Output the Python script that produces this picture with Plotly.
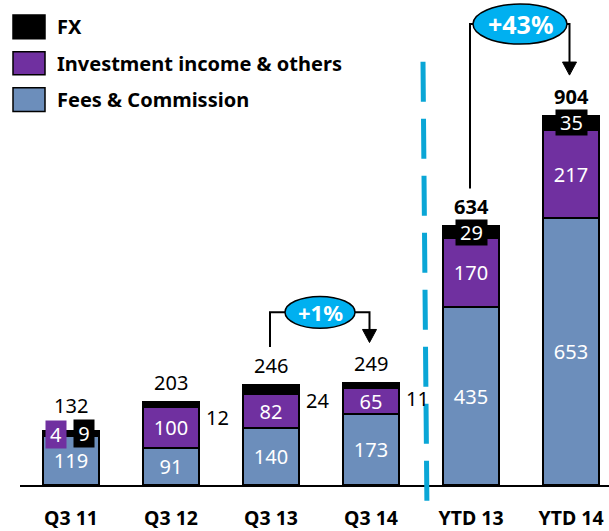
import plotly.graph_objects as go

# Data
categories = ["Q3 11", "Q3 12", "Q3 13", "Q3 14", "YTD 13", "YTD 14"]
fees = [119, 91, 140, 173, 435, 653]
investment = [4, 100, 82, 65, 170, 217]
fx = [9, 12, 24, 11, 29, 35]
totals = [132, 203, 246, 249, 634, 904]

series_names = ["FX", "Investment income & others", "Fees & Commission"]
growth_labels = ["+1%", "+43%"]
growth_pairs = [(2, 3), (4, 5)]

FEES_COLOR = '#6C8EBB'
INV_COLOR = '#7030A0'
FX_COLOR = '#000000'
CYAN = '#00B0F0'
FONT = 'Noto Sans'

# plot area in pixels (used for the decorations placed in paper coordinates)
PL, PW, PT, PH = 20, 589, 0, 487


def px_x(px):
    return (px - PL) / PW


def px_y(py):
    return (PT + PH - py) / PH


x = list(range(len(categories)))
bar_line = dict(color='black', width=2)

fig = go.Figure()

fig.add_trace(go.Bar(
    x=x, y=fees, width=0.56, name=series_names[2],
    marker=dict(color=FEES_COLOR, line=bar_line),
    text=[str(v) for v in fees], textposition='inside', insidetextanchor='middle',
    textangle=0, textfont=dict(color='white', size=20, family=FONT),
))
fig.add_trace(go.Bar(
    x=x, y=investment, width=0.56, name=series_names[1],
    marker=dict(color=INV_COLOR, line=bar_line),
    text=['' if i == 0 else str(v) for i, v in enumerate(investment)],
    textposition='inside', insidetextanchor='middle',
    textangle=0, textfont=dict(color='white', size=20, family=FONT),
))
fig.add_trace(go.Bar(
    x=x, y=fx, width=0.56, name=series_names[0],
    marker=dict(color=FX_COLOR, line=bar_line),
))

annotations = []
shapes = []

# totals above the bars
for i, t in enumerate(totals):
    bold = categories[i].startswith('YTD')
    annotations.append(dict(
        x=i, y=t, text=f"<b>{t}</b>" if bold else str(t),
        showarrow=False, yanchor='bottom', yshift=10 if i == 0 else 4,
        font=dict(size=20, color='black', family=FONT),
    ))

# FX labels
for i, v in enumerate(fx):
    if i == 0:
        # small segments in Q3 11: boxed labels
        annotations.append(dict(
            x=i, y=fees[i] + investment[i], xshift=-15, text=str(investment[i]),
            showarrow=False, yanchor='middle', width=18, height=25,
            bgcolor=INV_COLOR, font=dict(size=20, color='white', family=FONT),
        ))
        annotations.append(dict(
            x=i, y=totals[i], xshift=13, yshift=-2, text=str(v),
            showarrow=False, yanchor='middle', width=18, height=25,
            bgcolor=FX_COLOR, font=dict(size=20, color='white', family=FONT),
        ))
    elif categories[i].startswith('YTD'):
        annotations.append(dict(
            x=i, y=fees[i] + investment[i] + v / 2, text=str(v),
            showarrow=False, yanchor='middle', width=29, height=23,
            bgcolor=FX_COLOR, font=dict(size=20, color='white', family=FONT),
        ))
    else:
        annotations.append(dict(
            x=i + 0.28, y=totals[i], xshift=5, text=str(v),
            showarrow=False, xanchor='left', yanchor='top',
            font=dict(size=20, color='black', family=FONT),
        ))

# growth bubbles with elbow connectors
bubble_style = [
    dict(yc=423, rx=0.35, ry=39, size=22),
    dict(yc=1129, rx=0.47, ry=49, size=25),
]
for (a, b), label, st in zip(growth_pairs, growth_labels, bubble_style):
    xc = (a + b) / 2 - 0.01
    yc = st['yc']
    xl, xr = a - 0.01, b - 0.015
    left_bottom = totals[a] + 92
    tip = totals[b] + 100
    head = 32
    shapes.append(dict(
        type='path', xref='x', yref='y',
        path=f"M {xl},{left_bottom} L {xl},{yc} L {xc - st['rx']},{yc}",
        line=dict(color='black', width=2),
    ))
    shapes.append(dict(
        type='path', xref='x', yref='y',
        path=f"M {xc + st['rx']},{yc} L {xr},{yc} L {xr},{tip + head}",
        line=dict(color='black', width=2),
    ))
    shapes.append(dict(
        type='path', xref='x', yref='y',
        path=f"M {xr - 0.07},{tip + head} L {xr + 0.07},{tip + head} L {xr},{tip} Z",
        fillcolor='black', line=dict(color='black', width=1),
    ))
    shapes.append(dict(
        type='circle', xref='x', yref='y',
        x0=xc - st['rx'], x1=xc + st['rx'], y0=yc - st['ry'], y1=yc + st['ry'],
        fillcolor=CYAN, line=dict(color='black', width=1.5),
    ))
    annotations.append(dict(
        x=xc, y=yc, text=f"<b>{label}</b>", showarrow=False,
        font=dict(size=st['size'], color='white', family=FONT),
    ))

# dashed separator between quarters and YTD
shapes.append(dict(
    type='line', xref='x', yref='paper',
    x0=3.52, y0=px_y(62), x1=3.56, y1=px_y(516),
    line=dict(color='#0AA6D6', width=5, dash='40px,17px'),
))

# custom legend
legend_boxes = [(15, 39), (52, 75), (88, 112)]
legend_colors = [FX_COLOR, INV_COLOR, FEES_COLOR]
for name, color, (top, bottom) in zip(series_names, legend_colors, legend_boxes):
    shapes.append(dict(
        type='rect', xref='paper', yref='paper',
        x0=px_x(13), x1=px_x(45), y0=px_y(bottom), y1=px_y(top),
        fillcolor=color, line=dict(color='black', width=1.5),
    ))
    annotations.append(dict(
        xref='paper', yref='paper', x=px_x(55), y=px_y((top + bottom) / 2),
        text=f"<b>{name}</b>", showarrow=False, xanchor='left', yanchor='middle',
        font=dict(size=20, color='black', family=FONT),
    ))

fig.update_layout(
    barmode='stack',
    width=609, height=531,
    showlegend=False,
    plot_bgcolor='white',
    paper_bgcolor='white',
    margin=dict(l=PL, r=0, t=PT, b=531 - PT - PH, pad=0),
    font=dict(family=FONT, size=18, color='black'),
    uniformtext=dict(minsize=20, mode='show'),
    xaxis=dict(
        range=[-0.51, 5.38], tickvals=x, ticktext=[f"<b>{c}</b>" for c in categories],
        showgrid=False, zeroline=False, showline=True, linecolor='black', linewidth=2,
        ticks='', tickfont=dict(size=19.5, color='black', family=FONT),
        ticklabelstandoff=15,
    ),
    yaxis=dict(range=[0, 1188], visible=False),
    annotations=annotations,
    shapes=shapes,
)

fig.write_html("out.html", config={'displayModeBar': False},
               post_script="document.body.style.margin='0';")
